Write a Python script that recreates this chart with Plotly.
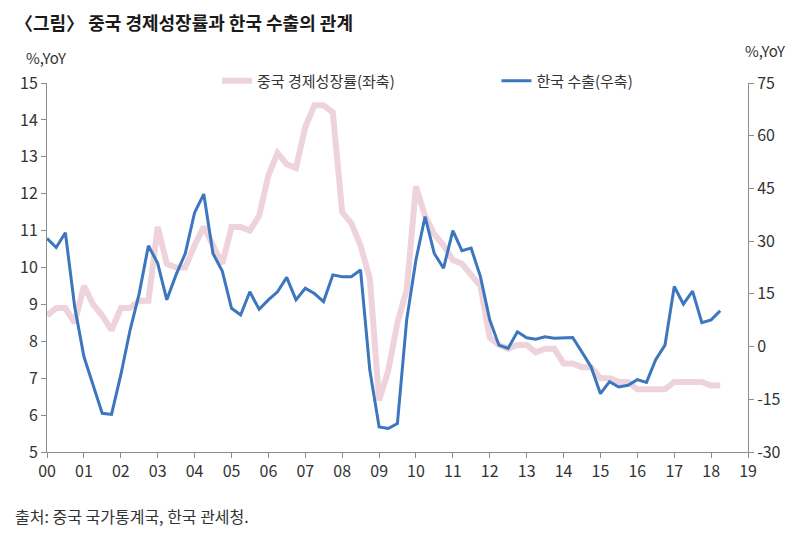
import plotly.graph_objects as go
import pandas as pd

# Quarterly periods 2000Q1 .. 2018Q2
quarters = pd.period_range("2000Q1", "2018Q2", freq="Q")
dates = [p.start_time.strftime("%Y-%m-%d") for p in quarters]

# 중국 경제성장률 (%, YoY, left axis)
china_gdp = [8.7, 8.9, 8.9, 8.5,
             9.5, 9.0, 8.7, 8.3,
             8.9, 8.9, 9.1, 9.1,
             11.1, 10.1, 10.0, 10.0,
             10.6, 11.1, 10.6, 10.1,
             11.1, 11.1, 11.0, 11.4,
             12.5, 13.1, 12.8, 12.7,
             13.8, 14.4, 14.4, 14.2,
             11.5, 11.2, 10.6, 9.7,
             6.4, 7.2, 8.5, 9.4,
             12.2, 11.4, 10.9, 10.6,
             10.2, 10.1, 9.8, 9.5,
             8.1, 7.9, 7.8, 7.9,
             7.9, 7.7, 7.8, 7.8,
             7.4, 7.4, 7.3, 7.3,
             7.0, 7.0, 6.9, 6.9,
             6.7, 6.7, 6.7, 6.7,
             6.9, 6.9, 6.9, 6.9,
             6.8, 6.8]

# 한국 수출 (%, YoY, right axis)
korea_exports = [30.8, 28.2, 32.4, 11.3,
                 -2.9, -11.0, -19.0, -19.3,
                 -8.0, 4.5, 15.0, 28.7,
                 23.7, 13.3, 20.4, 26.5,
                 38.1, 43.4, 26.5, 21.5,
                 10.9, 9.0, 15.6, 10.6,
                 13.3, 15.6, 19.7, 13.3,
                 16.6, 15.1, 12.8, 20.4,
                 19.9, 19.9, 21.8, -6.7,
                 -22.9, -23.3, -21.9, 7.6,
                 24.7, 37.0, 26.5, 22.3,
                 33.0, 27.3, 28.0, 19.9,
                 7.6, 0.4, -0.5, 4.2,
                 2.5, 2.1, 2.8, 2.4,
                 2.5, 2.6, -1.5, -5.8,
                 -13.4, -10.0, -11.5, -11.0,
                 -9.4, -10.2, -3.7, 0.4,
                 17.1, 12.1, 15.8, 6.8,
                 7.6, 10.2]

left_ticks = list(range(5, 16))
right_ticks = list(range(-30, 76, 15))
year_ticks = [f"{y}-01-01" for y in range(2000, 2020)]
year_labels = [f"{y % 100:02d}" for y in range(2000, 2020)]

FONT = "Noto Sans CJK KR"
AX = "#8c8c8c"
TXT = "#333333"

# page body has an 8px default margin; figure is sized to fit the 800x534 window
W, H = 792, 526
ML, MT, MR, MB = 35, 75, 52, 82
PW, PH = W - ML - MR, H - MT - MB

def px_x(x):  # page x -> paper x
    return (x - 8 - ML) / PW

def px_y(y):  # page y -> paper y
    return 1 - (y - 8 - MT) / PH

fig = go.Figure()
fig.add_trace(go.Scatter(x=dates, y=china_gdp, mode="lines",
                         name="중국 경제성장률(좌축)",
                         line=dict(color="#efd3dc", width=6), yaxis="y",
                         legend="legend"))
fig.add_trace(go.Scatter(x=dates, y=korea_exports, mode="lines",
                         name="한국 수출(우축)",
                         line=dict(color="#3b76be", width=3), yaxis="y2",
                         legend="legend2"))

axis_common = dict(showgrid=False, zeroline=False, showline=True, linecolor=AX,
                   linewidth=1, ticks="outside", ticklen=5, tickcolor=AX,
                   tickfont=dict(size=16, color=TXT))

fig.update_layout(
    width=W, height=H,
    margin=dict(l=ML, r=MR, t=MT, b=MB),
    paper_bgcolor="white", plot_bgcolor="white",
    font=dict(family=FONT, size=15, color=TXT),
    showlegend=True,
    legend=dict(orientation="h", x=px_x(214), y=px_y(81), xanchor="left", yanchor="middle",
                bgcolor="rgba(0,0,0,0)", font=dict(size=15, color=TXT), itemwidth=30),
    legend2=dict(orientation="h", x=px_x(495), y=px_y(81), xanchor="left", yanchor="middle",
                 bgcolor="rgba(0,0,0,0)", font=dict(size=15, color=TXT), itemwidth=30),
    xaxis=dict(type="date", range=["2000-01-01", "2019-01-01"],
               tickvals=year_ticks, ticktext=year_labels, **axis_common),
    yaxis=dict(range=[5, 15], tickvals=left_ticks, **axis_common),
    yaxis2=dict(range=[-30, 75], tickvals=right_ticks,
                ticktext=[str(v) for v in right_ticks],
                overlaying="y", side="right", **axis_common),
    annotations=[
        dict(text="<b>〈그림〉 중국 경제성장률과 한국 수출의 관계</b>", xref="paper", yref="paper",
             x=px_x(9), y=px_y(22), xanchor="left", yanchor="middle",
             showarrow=False, font=dict(size=18, color="#1a1a1a")),
        dict(text="%,YoY", xref="paper", yref="paper", x=px_x(20), y=px_y(57),
             xanchor="left", yanchor="middle", showarrow=False,
             font=dict(size=15, color=TXT)),
        dict(text="%,YoY", xref="paper", yref="paper", x=px_x(743), y=px_y(50),
             xanchor="left", yanchor="middle", showarrow=False,
             font=dict(size=15, color=TXT)),
        dict(text="출처: 중국 국가통계국, 한국 관세청.", xref="paper", yref="paper",
             x=px_x(9), y=px_y(516), xanchor="left", yanchor="middle",
             showarrow=False, font=dict(size=16, color=TXT)),
    ],
)

fig.write_html("out.html")
